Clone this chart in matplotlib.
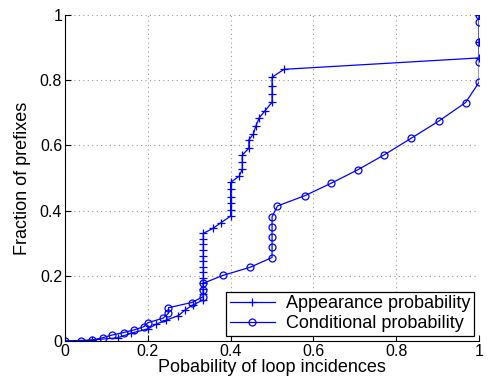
import numpy as np
import matplotlib.pyplot as plt

plt.rcParams['font.family'] = ['Liberation Sans', 'DejaVu Sans']

# appearance probability (plus markers)
app_x = [0, 0.066, 0.128, 0.16, 0.2, 0.221, 0.245, 0.274, 0.29, 0.308,
         0.334, 0.334, 0.334, 0.334, 0.334, 0.334, 0.334, 0.334, 0.334, 0.334, 0.334, 0.334, 0.334,
         0.357, 0.377, 0.4, 0.4, 0.4, 0.4, 0.4, 0.4,
         0.421, 0.428, 0.428, 0.428, 0.444, 0.444, 0.455, 0.461, 0.469, 0.483,
         0.5, 0.5, 0.5, 0.5, 0.529, 1.0, 1.0, 1.0]
app_y = [0, 0.003, 0.01, 0.024, 0.037, 0.052, 0.064, 0.078, 0.095, 0.11,
         0.126, 0.143, 0.160, 0.177, 0.194, 0.211, 0.228, 0.245, 0.262, 0.279, 0.296, 0.313, 0.33,
         0.345, 0.363, 0.383, 0.402, 0.422, 0.443, 0.465, 0.486,
         0.506, 0.527, 0.548, 0.57, 0.591, 0.617, 0.635, 0.66, 0.684, 0.706,
         0.732, 0.758, 0.783, 0.809, 0.833, 0.868, 0.917, 1.0]

# conditional probability (circle markers)
cond_x = [0, 0.038, 0.066, 0.091, 0.113, 0.142, 0.167, 0.191, 0.2, 0.237,
          0.25, 0.25, 0.306, 0.334, 0.334, 0.334, 0.381, 0.447,
          0.5, 0.5, 0.5, 0.5, 0.5, 0.513, 0.58, 0.643, 0.707, 0.771,
          0.835, 0.902, 0.967, 1.0, 1.0, 1.0, 1.0, 1.0]
cond_y = [0, 0, 0.003, 0.01, 0.018, 0.026, 0.034, 0.044, 0.056, 0.07,
          0.085, 0.102, 0.118, 0.136, 0.156, 0.177, 0.201, 0.226,
          0.256, 0.289, 0.32, 0.35, 0.381, 0.414, 0.446, 0.484, 0.525, 0.571,
          0.621, 0.674, 0.731, 0.794, 0.856, 0.917, 0.979, 1.0]

ticks = [0, 0.2, 0.4, 0.6, 0.8, 1]
tick_labels = ['0', '0.2', '0.4', '0.6', '0.8', '1']

fig = plt.figure(figsize=(4.88, 3.81), dpi=100)
ax = fig.add_axes([0.133, 0.105, 0.849, 0.856])

ax.plot(app_x, app_y, color='blue', lw=0.9, marker='+', ms=6, mew=0.9,
        label='Appearance probability')
ax.plot(cond_x, cond_y, color='blue', lw=0.9, marker='o', ms=5, mew=0.9,
        mfc='none', label='Conditional probability')

ax.set_xlim(0, 1)
ax.set_ylim(0, 1)
ax.set_xticks(ticks)
ax.set_xticklabels(tick_labels)
ax.set_yticks(ticks)
ax.set_yticklabels(tick_labels)
ax.tick_params(direction='in', labelsize=11.5, length=4, pad=2)
ax.grid(True, linestyle=(0, (1, 3)), color='0.6', lw=0.8)
ax.spines['top'].set_visible(False)
ax.spines['right'].set_visible(False)

ax.set_xlabel('Pobability of loop incidences', fontsize=13, labelpad=0)
ax.set_ylabel('Fraction of prefixes', fontsize=13, labelpad=6)

leg = ax.legend(loc='lower right', fontsize=13, fancybox=False, framealpha=1,
                edgecolor='black', handlelength=2.5, borderpad=0.2,
                labelspacing=0.15, borderaxespad=0.3, handletextpad=0.6)
leg.get_frame().set_linewidth(0.9)

fig.savefig('out.png', dpi=100)
